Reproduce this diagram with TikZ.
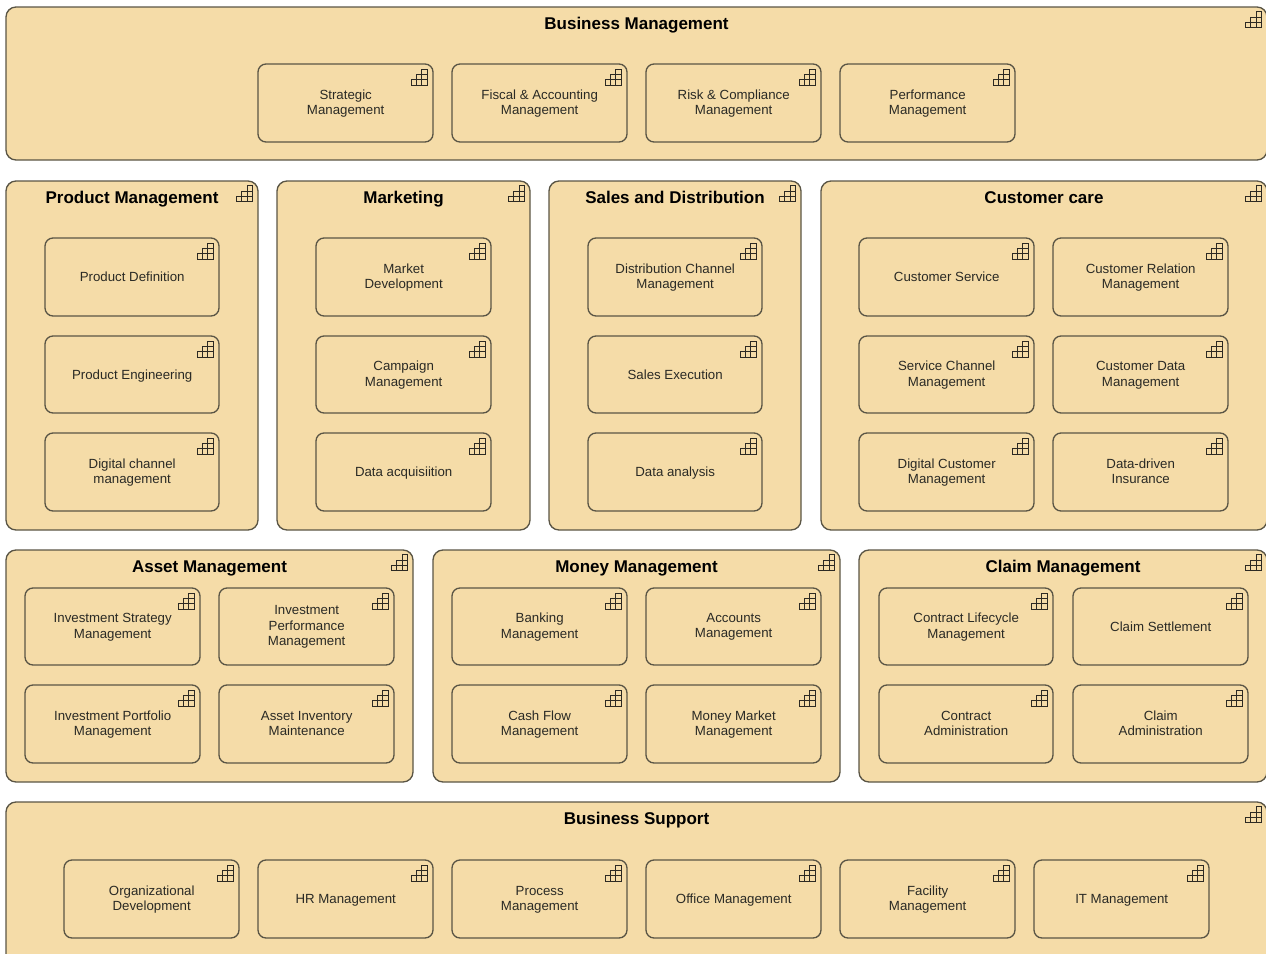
\documentclass[tikz,border=0pt]{standalone}
\usepackage{fontspec}
\setmainfont{Liberation Sans}
\definecolor{capfill}{HTML}{F5DCA8}
\definecolor{capline}{HTML}{5A5545}
\definecolor{captext}{HTML}{2A2A25}
\tikzset{
  x=0.75pt,y=-0.75pt,
  capbase/.style={draw=capline,fill=capfill,line width=1pt,inner sep=0pt,outer sep=0pt,align=center},
  groupbox/.style={capbase,rounded corners=7.5pt},
  itembox/.style={capbase,rounded corners=6pt},
  itemlabel/.style={inner sep=0pt,align=center,text=captext,font=\fontsize{9.95}{11.6}\selectfont},
  grouptitle/.style={inner sep=0pt,anchor=base,font=\fontsize{12.75}{14}\selectfont\bfseries,text=black},
  iconline/.style={draw=capline!50!black,line width=0.75pt}
}
% icon with lower right corner at (x,y)
\newcommand{\capicon}[2]{%
  \begin{scope}[shift={(#1,#2)}]
    \draw[iconline] (-16,0) rectangle (0,-5.3);
    \draw[iconline] (-10.7,-5.3) rectangle (0,-10.6);
    \draw[iconline] (-5.3,-10.6) rectangle (0,-16);
    \draw[iconline] (-10.7,0) -- (-10.7,-5.3) (-5.3,0) -- (-5.3,-10.6);
  \end{scope}}
% name, x0, y0, x1, y1, text
\newcommand{\capitem}[6]{%
  \node[itembox,minimum width={(#4-#2)*0.75pt},minimum height={(#5-#3)*0.75pt}] (#1) at ({(#2+#4)/2},{(#3+#5)/2}) {};
  \node[itemlabel] (#1text) at ({(#2+#4)/2+0.2},{(#3+#5)/2+1.5}) {#6\strut};
  \capicon{#4-6}{#3+21}}
% name, x0, y0, x1, y1, title
\newcommand{\capgroup}[6]{%
  \node[groupbox,minimum width={(#4-#2)*0.75pt},minimum height={(#5-#3)*0.75pt}] (#1) at ({(#2+#4)/2},{(#3+#5)/2}) {};
  \node[grouptitle] (#1title) at ({(#2+#4)/2},{#3+22}) {#6};
  \capicon{#4-5.5}{#3+20.7}}
\begin{document}
\begin{tikzpicture}
\useasboundingbox (0,0) rectangle (1266,953);
\clip (0,0) rectangle (1266,953);
% Business Management
\capgroup{bm}{6}{7}{1267}{160}{Business Management}
\capitem{bm1}{258}{64}{433}{142}{Strategic\\Management}
\capitem{bm2}{452}{64}{627}{142}{Fiscal \& Accounting\\Management}
\capitem{bm3}{646}{64}{821}{142}{Risk \& Compliance\\Management}
\capitem{bm4}{840}{64}{1015}{142}{Performance\\Management}
% Product Management
\capgroup{pm}{6}{181}{258}{530}{Product Management}
\capitem{pm1}{45}{238}{219}{316}{Product Definition}
\capitem{pm2}{45}{336}{219}{413}{Product Engineering}
\capitem{pm3}{45}{433}{219}{511}{Digital channel\\management}
% Marketing
\capgroup{mk}{277}{181}{530}{530}{Marketing}
\capitem{mk1}{316}{238}{491}{316}{Market\\Development}
\capitem{mk2}{316}{336}{491}{413}{Campaign\\Management}
\capitem{mk3}{316}{433}{491}{511}{Data acquisiition}
% Sales and Distribution
\capgroup{sd}{549}{181}{801}{530}{Sales and Distribution}
\capitem{sd1}{588}{238}{762}{316}{Distribution Channel\\Management}
\capitem{sd2}{588}{336}{762}{413}{Sales Execution}
\capitem{sd3}{588}{433}{762}{511}{Data analysis}
% Customer care
\capgroup{cc}{821}{181}{1267}{530}{Customer care}
\capitem{cc1}{859}{238}{1034}{316}{Customer Service}
\capitem{cc2}{1053}{238}{1228}{316}{Customer Relation\\Management}
\capitem{cc3}{859}{336}{1034}{413}{Service Channel\\Management}
\capitem{cc4}{1053}{336}{1228}{413}{Customer Data\\Management}
\capitem{cc5}{859}{433}{1034}{511}{Digital Customer\\Management}
\capitem{cc6}{1053}{433}{1228}{511}{Data-driven\\Insurance}
% Asset Management
\capgroup{am}{6}{550}{413}{782}{Asset Management}
\capitem{am1}{25}{588}{200}{665}{Investment Strategy\\Management}
\capitem{am2}{219}{588}{394}{665}{Investment\\Performance\\Management}
\capitem{am3}{25}{685}{200}{763}{Investment Portfolio\\Management}
\capitem{am4}{219}{685}{394}{763}{Asset Inventory\\Maintenance}
% Money Management
\capgroup{mm}{433}{550}{840}{782}{Money Management}
\capitem{mm1}{452}{588}{627}{665}{Banking\\Management}
\capitem{mm2}{646}{588}{821}{665}{Accounts\\Management}
\capitem{mm3}{452}{685}{627}{763}{Cash Flow\\Management}
\capitem{mm4}{646}{685}{821}{763}{Money Market\\Management}
% Claim Management
\capgroup{cm}{859}{550}{1267}{782}{Claim Management}
\capitem{cm1}{879}{588}{1053}{665}{Contract Lifecycle\\Management}
\capitem{cm2}{1073}{588}{1248}{665}{Claim Settlement}
\capitem{cm3}{879}{685}{1053}{763}{Contract\\Administration}
\capitem{cm4}{1073}{685}{1248}{763}{Claim\\Administration}
% Business Support
\capgroup{bs}{6}{802}{1267}{965}{Business Support}
\capitem{bs1}{64}{860}{239}{938}{Organizational\\Development}
\capitem{bs2}{258}{860}{433}{938}{HR Management}
\capitem{bs3}{452}{860}{627}{938}{Process\\Management}
\capitem{bs4}{646}{860}{821}{938}{Office Management}
\capitem{bs5}{840}{860}{1015}{938}{Facility\\Management}
\capitem{bs6}{1034}{860}{1209}{938}{IT Management}
\end{tikzpicture}
\end{document}
